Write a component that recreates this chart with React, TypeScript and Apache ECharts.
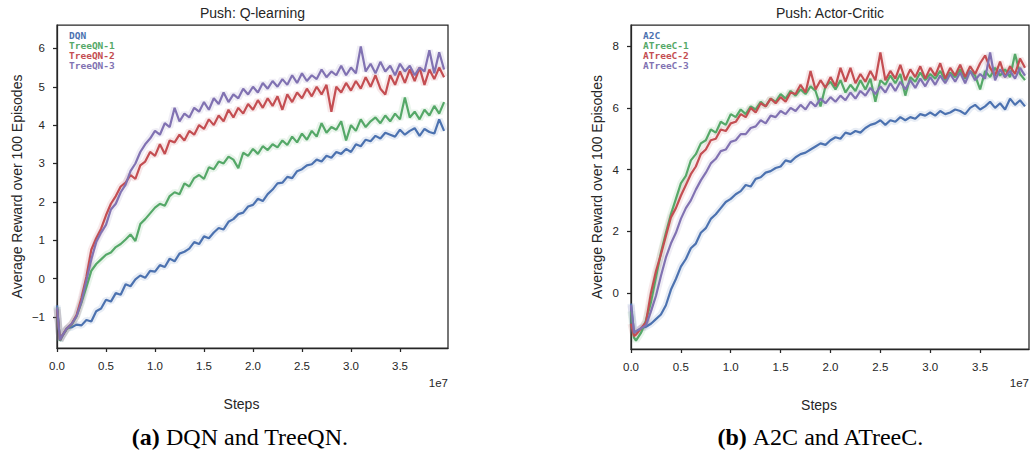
import React, { useEffect, useRef } from "react";
import * as echarts from "echarts";

// x positions in units of 1e7 steps
const STEPS_E7 = [
  0, 0.03, 0.05,
  0.1, 0.15, 0.2, 0.25, 0.3, 0.35, 0.4, 0.45, 0.5, 0.55,
  0.6, 0.65, 0.7, 0.75, 0.8, 0.85, 0.9, 0.95, 1.0, 1.05,
  1.1, 1.15, 1.2, 1.25, 1.3, 1.35, 1.4, 1.45, 1.5, 1.55,
  1.6, 1.65, 1.7, 1.75, 1.8, 1.85, 1.9, 1.95, 2.0, 2.05,
  2.1, 2.15, 2.2, 2.25, 2.3, 2.35, 2.4, 2.45, 2.5, 2.55,
  2.6, 2.65, 2.7, 2.75, 2.8, 2.85, 2.9, 2.95, 3.0, 3.05,
  3.1, 3.15, 3.2, 3.25, 3.3, 3.35, 3.4, 3.45, 3.5, 3.55,
  3.6, 3.65, 3.7, 3.75, 3.8, 3.85, 3.9, 3.95,
];

// Push: Q-learning
const DQN = [
  -0.7, -1.62, -1.52,
  -1.3, -1.27, -1.2, -1.22, -1.08, -1.12, -0.85, -0.78, -0.55, -0.6,
  -0.38, -0.42, -0.15, -0.2, -0.02, 0.08, 0.02, 0.2, 0.18, 0.35,
  0.3, 0.52, 0.45, 0.65, 0.7, 0.78, 0.95, 0.9, 1.1, 1.05,
  1.2, 1.32, 1.28, 1.48, 1.55, 1.68, 1.72, 1.88, 1.92, 2.08,
  2.02, 2.2, 2.32, 2.48, 2.5, 2.65, 2.62, 2.8, 2.85, 2.95,
  2.98, 3.1, 3.05, 3.2, 3.15, 3.3, 3.25, 3.38, 3.3, 3.5,
  3.45, 3.62, 3.58, 3.72, 3.65, 3.8, 3.75, 3.7, 3.88, 3.75,
  3.85, 3.92, 3.72, 3.9, 3.82, 3.78, 4.15, 3.85,
];
const TREEQN_1 = [
  -0.75, -1.62, -1.5,
  -1.32, -1.2, -0.98, -0.62, -0.22, 0.2, 0.38, 0.5, 0.62, 0.68,
  0.82, 0.9, 1.02, 1.15, 0.98, 1.42, 1.55, 1.7, 1.85, 1.95,
  1.9, 2.15, 2.25, 2.2, 2.48, 2.4, 2.62, 2.7, 2.6, 2.9,
  2.85, 3.05, 3.0, 3.18, 3.1, 2.88, 3.28, 3.2, 3.38, 3.25,
  3.45, 3.35, 3.5, 3.42, 3.6, 3.48, 3.7, 3.55, 3.78, 3.62,
  3.85, 3.7, 4.05, 3.8, 3.95, 3.88, 4.1, 3.6, 4.0, 3.85,
  4.15, 3.95, 4.1, 4.2, 4.05, 4.25, 4.1, 4.3, 4.15, 4.72,
  4.2, 4.35, 4.15, 4.4, 4.25, 4.5, 4.3, 4.6,
];
const TREEQN_2 = [
  -0.8, -1.6, -1.5,
  -1.3, -1.18, -0.95, -0.5, 0.05, 0.75, 1.05, 1.3, 1.65, 1.95,
  2.15, 2.4, 2.5, 2.7, 2.6, 2.95, 3.05, 3.3, 3.2, 3.5,
  3.25, 3.6, 3.55, 3.75, 3.6, 3.85, 3.75, 4.0, 3.9, 4.15,
  4.0, 4.25, 4.1, 4.4, 4.2, 4.45, 4.3, 4.55, 4.4, 4.65,
  4.45, 4.7, 4.5, 4.75, 4.4, 4.8, 4.6, 4.85, 4.7, 4.95,
  4.75, 5.0, 4.8, 5.05, 4.35, 5.0, 4.85, 5.1, 4.9, 5.15,
  4.95, 5.25, 5.0, 5.3, 4.95, 4.8, 5.3, 5.05, 5.4, 5.1,
  5.45, 5.15, 5.5, 5.05, 5.45, 5.2, 5.5, 5.25,
];
const TREEQN_3 = [
  -0.75, -1.6, -1.5,
  -1.3, -1.18, -0.98, -0.6, -0.05, 0.5, 0.95, 1.2, 1.4, 1.8,
  1.95, 2.25, 2.45, 2.8, 3.0, 3.3, 3.5, 3.65, 3.85, 3.75,
  4.05, 3.95, 4.45, 4.1, 4.3, 4.2, 4.45, 4.35, 4.6, 4.4,
  4.7, 4.55, 4.85, 4.6, 4.8, 4.7, 4.95, 4.8, 5.0, 4.85,
  5.1, 4.95, 5.15, 5.0, 5.2, 5.05, 5.3, 5.1, 5.35, 5.15,
  5.3, 5.2, 5.45, 5.25, 5.4, 5.3, 5.55, 5.3, 5.5, 5.35,
  6.05, 5.4, 5.6, 5.35, 5.65, 5.4, 5.55, 5.3, 5.6, 5.4,
  5.55, 5.3, 5.5, 5.4, 5.95, 5.35, 5.9, 5.45,
];

// Push: Actor-Critic
const A2C = [
  -0.35, -1.3, -1.25,
  -1.15, -1.1, -1.0, -0.85, -0.7, -0.4, 0.1, 0.45, 0.85, 1.1,
  1.45, 1.6, 1.95, 2.1, 2.4, 2.55, 2.75, 2.95, 3.05, 3.2,
  3.3, 3.5, 3.45, 3.7, 3.75, 3.9, 3.95, 4.05, 4.1, 4.3,
  4.25, 4.4, 4.5, 4.55, 4.65, 4.75, 4.85, 4.8, 4.95, 5.05,
  5.0, 5.2, 5.15, 5.25, 5.2, 5.35, 5.45, 5.5, 5.6, 5.45,
  5.6, 5.55, 5.7, 5.6, 5.7, 5.65, 5.8, 5.75, 5.85, 5.75,
  5.9, 5.8, 5.85, 5.95, 5.9, 5.8, 6.0, 6.1, 5.95, 6.05,
  6.2, 6.0, 6.15, 5.95, 6.3, 6.1, 6.25, 6.05,
];
const ATREEC_1 = [
  -0.6, -1.45, -1.55,
  -1.3, -0.9, -0.3, 0.5, 1.3, 1.95, 2.55, 3.05, 3.55, 3.8,
  4.3, 4.5, 4.85, 4.95, 5.3, 5.2, 5.55, 5.45, 5.8, 5.7,
  5.95, 5.8, 6.05, 5.95, 6.2, 6.05, 6.3, 6.2, 6.45, 6.3,
  6.55, 6.4, 6.6, 6.45, 6.7, 6.55, 6.05, 6.7, 6.85, 6.6,
  6.9, 6.5, 6.75, 6.55, 6.9, 6.6, 6.95, 6.2, 6.9, 6.75,
  7.05, 6.8, 7.1, 6.4, 7.0, 6.85, 7.15, 6.9, 7.1, 6.95,
  7.2, 6.9, 7.15, 7.0, 7.25, 6.95, 7.2, 7.05, 6.6, 7.2,
  7.0, 7.3, 7.05, 7.25, 7.0, 7.75, 7.1, 6.9,
];
const ATREEC_2 = [
  -1.0, -1.4, -1.35,
  -1.15, -0.95, 0.0, 0.7, 1.25, 1.85, 2.45, 2.75, 3.15, 3.5,
  3.85, 4.1, 4.5, 4.65, 4.95, 5.0, 5.3, 5.25, 5.5, 5.55,
  5.8, 5.7, 6.0, 5.85, 6.15, 6.05, 6.3, 6.15, 6.35, 6.2,
  6.5, 6.45, 6.75, 6.5, 7.2, 6.6, 6.9, 6.65, 7.0, 6.7,
  7.3, 6.85, 7.3, 6.8, 7.1, 6.85, 7.2, 6.9, 7.8, 6.9,
  7.2, 6.95, 7.4, 6.9, 7.25, 7.0, 7.35, 6.95, 7.3, 7.05,
  7.45, 6.95, 7.3, 7.05, 7.4, 7.0, 7.35, 7.1, 7.45, 7.7,
  7.3, 7.05, 7.5, 7.0, 7.35, 7.1, 7.6, 7.3,
];
const ATREEC_3 = [
  -0.4, -1.3, -1.25,
  -1.15, -1.05, -0.6, -0.1, 0.55, 1.15, 1.6, 1.95, 2.4, 2.75,
  3.0, 3.35, 3.65, 3.9, 4.2, 4.35, 4.6, 4.65, 4.9, 4.95,
  5.15, 5.15, 5.35, 5.4, 5.6, 5.5, 5.75, 5.7, 5.9, 5.8,
  6.0, 5.9, 6.1, 5.95, 6.2, 6.05, 6.3, 6.15, 6.35, 6.2,
  6.4, 6.25, 6.5, 6.3, 6.55, 6.4, 6.65, 6.45, 6.7, 6.5,
  6.8, 6.55, 6.85, 6.6, 6.9, 6.65, 6.95, 6.7, 7.0, 6.75,
  7.05, 6.8, 7.1, 6.85, 7.15, 6.8, 7.2, 6.9, 7.1, 6.95,
  7.8, 6.9, 7.25, 7.0, 7.2, 6.95, 7.3, 7.05,
];

const X_TICKS_E7 = [0, 0.5, 1.0, 1.5, 2.0, 2.5, 3.0, 3.5];
const Y_TICKS_Q = [-1, 0, 1, 2, 3, 4, 5, 6];
const Y_TICKS_AC = [0, 2, 4, 6, 8];

const TITLES = ["Push: Q-learning", "Push: Actor-Critic"];
const CAPTIONS = [
  ["(a)", " DQN and TreeQN."],
  ["(b)", " A2C and ATreeC."],
];
const NAMES_Q = ["DQN", "TreeQN-1", "TreeQN-2", "TreeQN-3"];
const NAMES_AC = ["A2C", "ATreeC-1", "ATreeC-2", "ATreeC-3"];
const VALUES_Q = [DQN, TREEQN_1, TREEQN_2, TREEQN_3];
const VALUES_AC = [A2C, ATREEC_1, ATREEC_2, ATREEC_3];

const COLORS = ["#4C72B0", "#55A868", "#C44E52", "#8172B2"];
const INK = "#262626";
const SANS = "'Liberation Sans', Arial, sans-serif";
const MONO = "'DejaVu Sans Mono', monospace";
const SERIF = "'Liberation Serif', 'Times New Roman', serif";

const GRIDS = [
  { left: 57, top: 25, width: 391, height: 323, yMin: -1.81, yMax: 6.61, yTicks: Y_TICKS_Q, nameGap: 33, capX: 240 },
  { left: 631, top: 25, width: 398, height: 324, yMin: -1.82, yMax: 8.69, yTicks: Y_TICKS_AC, nameGap: 27, capX: 821 },
];

const minus = (v: number) => String(v).replace("-", "\u2212");

export default function App() {
  const ref = useRef<HTMLDivElement>(null);

  useEffect(() => {
    if (!ref.current) return;
    const chart = echarts.init(ref.current, null, { renderer: "svg" });

    const toData = (vals: number[]) => STEPS_E7.map((s, i) => [s * 1e7, vals[i]]);

    const series: any[] = [];
    [VALUES_Q, VALUES_AC].forEach((group, g) => {
      const names = g === 0 ? NAMES_Q : NAMES_AC;
      group.forEach((vals, k) => {
        series.push({
          name: names[k],
          type: "line",
          xAxisIndex: g,
          yAxisIndex: g,
          data: toData(vals),
          showSymbol: false,
          silent: true,
          z: 1,
          lineStyle: { color: COLORS[k], width: 7, opacity: 0.13 },
          itemStyle: { color: COLORS[k] },
        });
      });
      group.forEach((vals, k) => {
        series.push({
          name: names[k],
          type: "line",
          xAxisIndex: g,
          yAxisIndex: g,
          data: toData(vals),
          showSymbol: false,
          z: 2 + k,
          lineStyle: { color: COLORS[k], width: 2.2 },
          itemStyle: { color: COLORS[k] },
        });
      });
    });

    const xTicks = X_TICKS_E7.map((v) => v * 1e7);

    const option: any = {
      animation: false,
      backgroundColor: "#ffffff",
      title: GRIDS.map((gr, g) => ({
        text: TITLES[g],
        left: gr.left + gr.width / 2,
        top: 6,
        padding: 0,
        textAlign: "center",
        textStyle: { fontFamily: SANS, fontSize: 14, fontWeight: "normal", color: INK },
      })),
      legend: GRIDS.map((gr, g) => {
        const names = g === 0 ? NAMES_Q : NAMES_AC;
        return {
          orient: "vertical",
          left: gr.left + 7,
          top: 30,
          padding: 0,
          icon: "none",
          itemWidth: 0,
          itemHeight: 10,
          itemGap: 0,
          selectedMode: false,
          textStyle: { fontFamily: MONO, fontSize: 9.5, fontWeight: "bold", lineHeight: 10 },
          data: names.map((n, k) => ({ name: n, textStyle: { color: COLORS[k] } })),
        };
      }),
      grid: GRIDS.map((gr) => ({
        left: gr.left,
        top: gr.top,
        width: gr.width,
        height: gr.height,
        show: true,
        borderColor: INK,
        borderWidth: 1.25,
        backgroundColor: "transparent",
        containLabel: false,
      })),
      xAxis: GRIDS.map((gr, g) => ({
        type: "value",
        gridIndex: g,
        min: 0,
        max: 3.99e7,
        name: "Steps",
        nameLocation: "middle",
        nameGap: 49,
        nameTextStyle: { fontFamily: SANS, fontSize: 14, color: INK, padding: [0, 22, 0, 0] },
        axisLine: { show: true, onZero: false, lineStyle: { color: INK, width: 1.25 } },
        axisTick: { show: true, inside: false, length: 4, customValues: xTicks, lineStyle: { color: INK, width: 1.25 } },
        axisLabel: {
          customValues: xTicks,
          formatter: (v: number) => (v / 1e7).toFixed(1),
          color: INK,
          fontFamily: SANS,
          fontSize: 11.5,
          margin: 12,
        },
        splitLine: { show: false },
      })),
      yAxis: GRIDS.map((gr, g) => ({
        type: "value",
        gridIndex: g,
        min: gr.yMin,
        max: gr.yMax,
        name: "Average Reward over 100 Episodes",
        nameLocation: "middle",
        nameGap: gr.nameGap,
        nameTextStyle: { fontFamily: SANS, fontSize: 14, color: INK },
        axisLine: { show: true, onZero: false, lineStyle: { color: INK, width: 1.25 } },
        axisTick: { show: true, inside: false, length: 4, customValues: gr.yTicks, lineStyle: { color: INK, width: 1.25 } },
        axisLabel: {
          customValues: gr.yTicks,
          formatter: (v: number) => minus(v),
          color: INK,
          fontFamily: SANS,
          fontSize: 11.5,
          margin: 12,
        },
        splitLine: { show: false },
      })),
      graphic: [
        ...GRIDS.map((gr) => ({
          type: "text",
          x: gr.left + gr.width,
          y: 383,
          style: { text: "1e7", fill: INK, font: `11.5px ${SANS}`, textAlign: "right", textVerticalAlign: "middle" },
        })),
        ...GRIDS.map((gr, g) => ({
          type: "text",
          x: gr.capX,
          y: 437,
          style: {
            text: `{b|${CAPTIONS[g][0]}}{n|${CAPTIONS[g][1]}}`,
            textAlign: "center",
            textVerticalAlign: "middle",
            fill: "#000",
            rich: {
              b: { fontFamily: SERIF, fontSize: 24, fontWeight: "bold", fill: "#000" },
              n: { fontFamily: SERIF, fontSize: 24, fontWeight: "normal", fill: "#000" },
            },
          },
        })),
      ],
      series,
    };

    chart.setOption(option);
    return () => chart.dispose();
  }, []);

  return (
    <div
      ref={ref}
      style={{ position: "absolute", left: 0, top: 0, width: 1030, height: 454, background: "#fff" }}
    />
  );
}
